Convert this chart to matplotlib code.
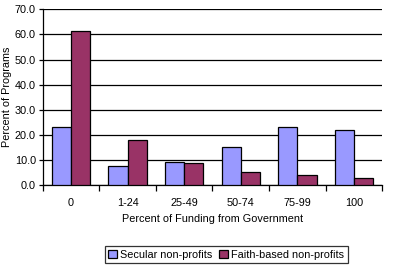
import matplotlib
matplotlib.use("Agg")
import matplotlib.pyplot as plt
import numpy as np

plt.rcParams["font.family"] = ["Liberation Sans", "DejaVu Sans"]

categories = ["0", "1-24", "25-49", "50-74", "75-99", "100"]
secular = [23.0, 7.6, 9.0, 15.0, 23.0, 21.8]
faith = [61.5, 17.8, 8.6, 5.0, 3.8, 2.7]

FS = 7.8

fig = plt.figure(figsize=(3.96, 2.66), dpi=100)
ax = fig.add_axes([0.108, 0.3045, 0.857, 0.6605])

x = np.arange(len(categories))
w = 0.34
ax.bar(x - w / 2, secular, w, color="#9999FF", edgecolor="black", linewidth=0.9,
       label="Secular non-profits", zorder=3)
ax.bar(x + w / 2, faith, w, color="#993366", edgecolor="black", linewidth=0.9,
       label="Faith-based non-profits", zorder=3)

ax.set_xlim(-0.5, len(categories) - 0.5)
ax.set_ylim(0, 70)
ax.set_yticks(np.arange(0, 71, 10))
ax.set_yticklabels([f"{v:.1f}" for v in np.arange(0, 71, 10)], fontsize=FS)
ax.yaxis.grid(True, color="black", linewidth=0.9, zorder=0)

# category labels at centers, tick marks at boundaries
ax.set_xticks(x)
ax.set_xticklabels(categories, fontsize=FS)
ax.set_xticks(np.arange(-0.5, len(categories)), minor=True)
ax.tick_params(axis="x", which="major", length=0, pad=9)
ax.tick_params(axis="x", which="minor", length=4, width=0.9, direction="out")
ax.tick_params(axis="y", length=3, width=0.9, direction="out", pad=2)

for s in ["top", "right"]:
    ax.spines[s].set_visible(False)
for s in ["left", "bottom"]:
    ax.spines[s].set_linewidth(0.9)

ax.set_xlabel("Percent of Funding from Government", fontsize=FS, labelpad=5)
ax.set_ylabel("Percent of Programs", fontsize=FS, labelpad=2)

leg = fig.legend(loc="center", bbox_to_anchor=(0.571, 0.043), ncol=2,
                 fontsize=FS, frameon=True, fancybox=False, edgecolor="black",
                 handlelength=0.8, handleheight=0.8, handletextpad=0.3,
                 columnspacing=0.6, borderpad=0.35, borderaxespad=0)
leg.get_frame().set_linewidth(0.9)

fig.savefig("out.png", dpi=100)
